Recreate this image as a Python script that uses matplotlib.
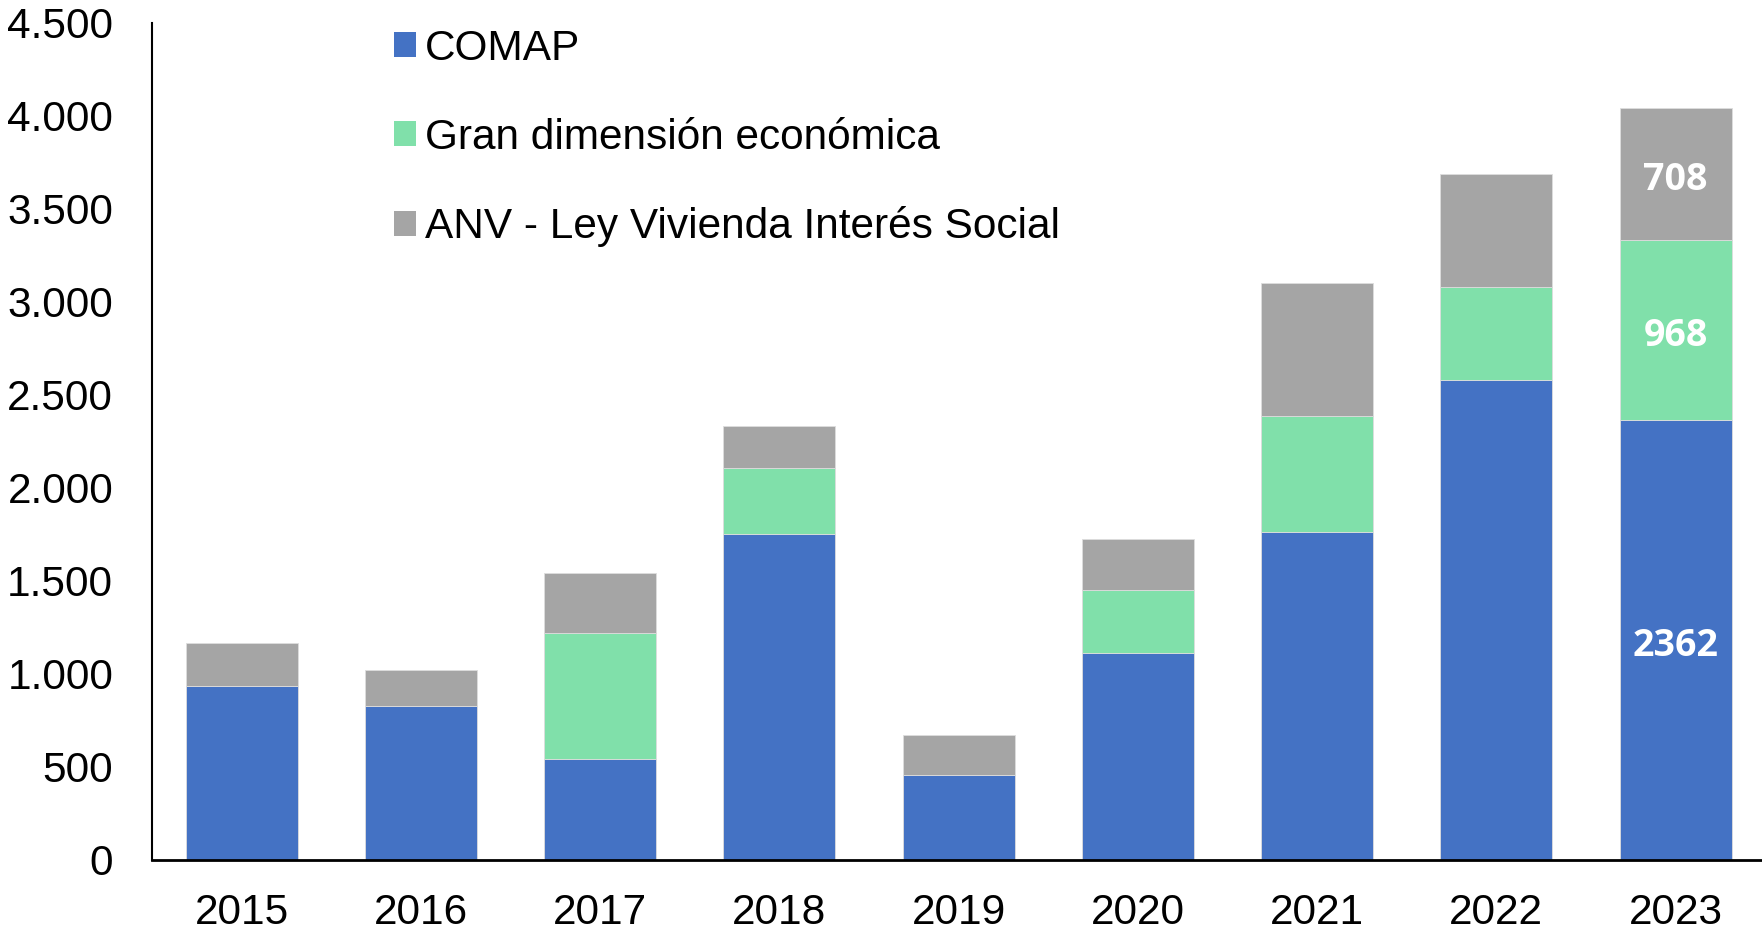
import matplotlib
matplotlib.use("Agg")
import matplotlib.pyplot as plt
from matplotlib.patches import Patch
import numpy as np

years = ["2015", "2016", "2017", "2018", "2019", "2020", "2021", "2022", "2023"]
comap = [936, 827, 544, 1752, 459, 1111, 1764, 2579, 2362]
gran = [0, 0, 676, 356, 0, 339, 622, 501, 968]
anv = [230, 194, 320, 223, 211, 277, 713, 604, 708]
series_names = ["COMAP", "Gran dimensión económica", "ANV - Ley Vivienda Interés Social"]
colors = ["#4472C4", "#80E0AA", "#A5A5A5"]
y_ticks = [0, 500, 1000, 1500, 2000, 2500, 3000, 3500, 4000, 4500]
y_tick_labels = ["0", "500", "1.000", "1.500", "2.000", "2.500", "3.000", "3.500", "4.000", "4.500"]

plt.rcParams['font.family'] = ['Liberation Sans', 'DejaVu Sans']

fig = plt.figure(figsize=(17.62, 9.30), dpi=100)
ax = fig.add_axes([0.0863, 0.0753, 0.9155, 0.9005])

x = np.arange(len(years))
w = 0.625
c = np.array(comap)
g = np.array(gran)
a = np.array(anv)
ax.bar(x, c, w, color=colors[0], edgecolor="#DDDDDD", linewidth=0.6)
ax.bar(x, g, w, bottom=c, color=colors[1], edgecolor="#DDDDDD", linewidth=0.6)
ax.bar(x, a, w, bottom=c + g, color=colors[2], edgecolor="#DDDDDD", linewidth=0.6)

# labels on last bar
i = len(years) - 1
for val, bot in [(c[i], 0), (g[i], c[i]), (a[i], c[i] + g[i])]:
    ax.annotate(str(val), (x[i], bot + val / 2), xytext=(0, -4), textcoords="offset points",
                ha="center", va="center", color="white", fontsize=27, fontweight="bold",
                family=["Open Sans", "DejaVu Sans"])

ax.set_xlim(-0.5, len(years) - 0.5)
ax.set_ylim(0, 4500)
ax.set_yticks(y_ticks)
ax.set_yticklabels(y_tick_labels)
ax.set_xticks(x)
ax.set_xticklabels(years)
ax.tick_params(axis="both", length=0, labelsize=30.5)
ax.tick_params(axis="y", pad=28)
ax.tick_params(axis="x", pad=24)
for s in ["top", "right"]:
    ax.spines[s].set_visible(False)
ax.spines["left"].set_linewidth(1.5)
ax.spines["bottom"].set_linewidth(2)

handles = [Patch(facecolor=col, edgecolor="none") for col in colors]
leg = fig.legend(handles, series_names, loc="upper left", bbox_to_anchor=(0.2236, 0.969),
                 frameon=False, fontsize=30.5, handlelength=0.52, handleheight=0.52,
                 handletextpad=0.22, labelspacing=1.15, borderpad=0, borderaxespad=0)

fig.savefig("out.png", dpi=100)
